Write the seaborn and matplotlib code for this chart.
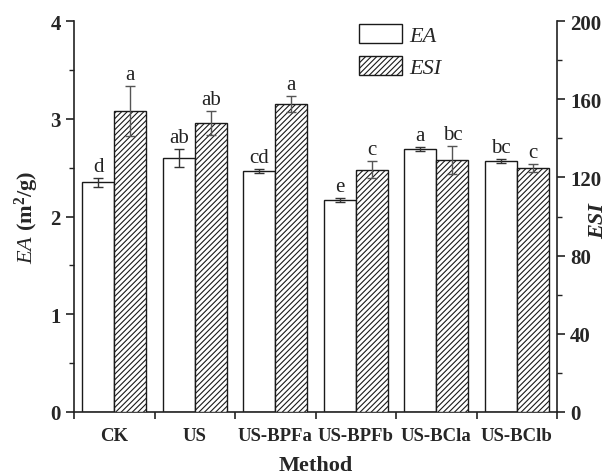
import matplotlib
matplotlib.use("Agg")
import matplotlib.pyplot as plt
from matplotlib.patches import Patch
from matplotlib.ticker import MultipleLocator, FixedLocator
import seaborn as sns
import pandas as pd
import numpy as np

methods = ["CK", "US", "US-BPFa", "US-BPFb", "US-BCla", "US-BClb"]
ea = [2.35, 2.60, 2.47, 2.17, 2.69, 2.565]
ea_err = [0.045, 0.09, 0.02, 0.02, 0.02, 0.02]
esi = [154.0, 148.0, 157.7, 124.0, 129.0, 124.8]
esi_err = [13.0, 6.1, 4.1, 4.3, 7.2, 2.0]
ea_letters = ["d", "ab", "cd", "e", "a", "bc"]
esi_letters = ["a", "ab", "a", "c", "bc", "c"]

sns.set_theme(style="ticks")
plt.rcParams["font.family"] = ["Liberation Serif", "DejaVu Serif"]
plt.rcParams["hatch.linewidth"] = 0.8
plt.rcParams["mathtext.fontset"] = "custom"
plt.rcParams["mathtext.rm"] = "Liberation Serif"
plt.rcParams["mathtext.it"] = "Liberation Serif:italic"
plt.rcParams["mathtext.bf"] = "Liberation Serif:bold"

fig = plt.figure(figsize=(6.1, 4.77), dpi=100)
ax = fig.add_axes([74/610, 1-413/477, (557-74)/610, (413-22)/477])
ax2 = ax.twinx()

order_hue = ["EA", "ESI"]
df_ea = pd.DataFrame({"Method": methods, "Series": "EA", "Value": ea})
df_esi = pd.DataFrame({"Method": methods, "Series": "ESI", "Value": esi})

edge = "#1a1a1a"
pal = {"EA": "white", "ESI": "white"}
sns.barplot(data=df_ea, x="Method", y="Value", hue="Series", hue_order=order_hue,
            order=methods, palette=pal, width=0.8, dodge=True,
            errorbar=None, edgecolor=edge, linewidth=1.0, ax=ax, legend=False)
sns.barplot(data=df_esi, x="Method", y="Value", hue="Series", hue_order=order_hue,
            order=methods, palette=pal, width=0.8, dodge=True,
            errorbar=None, edgecolor=edge, linewidth=1.0, ax=ax2, legend=False)

for p in ax2.patches:
    p.set_hatch("//////")

ax.set_ylim(0, 4)
ax2.set_ylim(0, 200)
ax.set_xlim(-0.5, 5.5)

txt_kw = dict(ha="center", va="bottom", fontsize=15, color="#222222")
ea_bars = sorted([p for p in ax.patches if p.get_height() > 0], key=lambda p: p.get_x())
for p, v, e, lab in zip(ea_bars, ea, ea_err, ea_letters):
    cx = p.get_x() + p.get_width() / 2
    ax.errorbar(cx, v, yerr=e, fmt="none", ecolor="#333333", elinewidth=1.0,
                capsize=3.5, capthick=1.0)
    ax.text(cx, v + e + 0.02, lab, **txt_kw)
esi_bars = sorted([p for p in ax2.patches if p.get_height() > 0], key=lambda p: p.get_x())
for p, v, e, lab in zip(esi_bars, esi, esi_err, esi_letters):
    cx = p.get_x() + p.get_width() / 2
    ax2.errorbar(cx, v, yerr=e, fmt="none", ecolor="#555555", elinewidth=1.0,
                 capsize=3.5, capthick=1.0)
    ax2.text(cx, v + e + 1.0, lab, **txt_kw)

# spines
for a in (ax, ax2):
    a.spines["top"].set_visible(False)
    for s in ("left", "right", "bottom"):
        a.spines[s].set_linewidth(1.2)
        a.spines[s].set_color("#222222")
ax.spines["right"].set_visible(False)
ax2.spines["left"].set_visible(False)
ax2.spines["bottom"].set_visible(False)

# x ticks: marks at group boundaries, labels at centers
ax.xaxis.set_major_locator(FixedLocator(np.arange(-0.5, 6.0, 1.0)))
ax.xaxis.set_minor_locator(FixedLocator(np.arange(0, 6)))
ax.set_xticklabels([])
ax.set_xticklabels(methods, minor=True)
ax.tick_params(axis="x", which="major", direction="out", length=5, width=1.2, color="#222222")
ax.tick_params(axis="x", which="minor", length=0, pad=11, labelsize=13.5)
for t in ax.get_xticklabels(minor=True):
    t.set_fontweight("bold")

ax.yaxis.set_major_locator(MultipleLocator(1))
ax.yaxis.set_minor_locator(MultipleLocator(0.5))
ax.tick_params(axis="y", which="major", direction="out", length=6, width=1.2, labelsize=15, color="#222222")
ax.tick_params(axis="y", which="minor", direction="out", length=3.5, width=1.0, color="#222222")
ax2.yaxis.set_major_locator(MultipleLocator(40))
ax2.yaxis.set_minor_locator(MultipleLocator(20))
ax2.tick_params(axis="y", which="major", direction="out", length=6, width=1.2, labelsize=15, color="#222222")
ax2.tick_params(axis="y", which="minor", direction="out", length=3.5, width=1.0, color="#222222")
for t in ax.get_yticklabels() + ax2.get_yticklabels():
    t.set_fontweight("bold")

ax.set_xlabel("Method", fontsize=16, fontweight="bold", labelpad=8)
ax.set_ylabel(r"$\mathbf{\mathit{EA}}$ $\mathbf{(m^2/g)}$", fontsize=16, va="center")
ax.yaxis.set_label_coords(-0.097, 0.50)
ax2.set_ylabel("ESI", fontsize=16, fontweight="bold", fontstyle="italic", rotation=90, va="center")
ax2.yaxis.set_label_coords(1.085, 0.49)

handles = [Patch(facecolor="white", edgecolor=edge, linewidth=1.0, label="EA"),
           Patch(facecolor="white", edgecolor=edge, linewidth=1.0, hatch="//////", label="ESI")]
leg = ax2.legend(handles=handles, loc="upper left", bbox_to_anchor=(359/610, 1-25/477),
                 bbox_transform=fig.transFigure, frameon=False, fontsize=16,
                 handlelength=1.95, handleheight=0.95, handletextpad=0.3,
                 labelspacing=0.45, borderpad=0, borderaxespad=0)
for t in leg.get_texts():
    t.set_fontstyle("italic")

fig.savefig("out.png", dpi=100, facecolor="white")
